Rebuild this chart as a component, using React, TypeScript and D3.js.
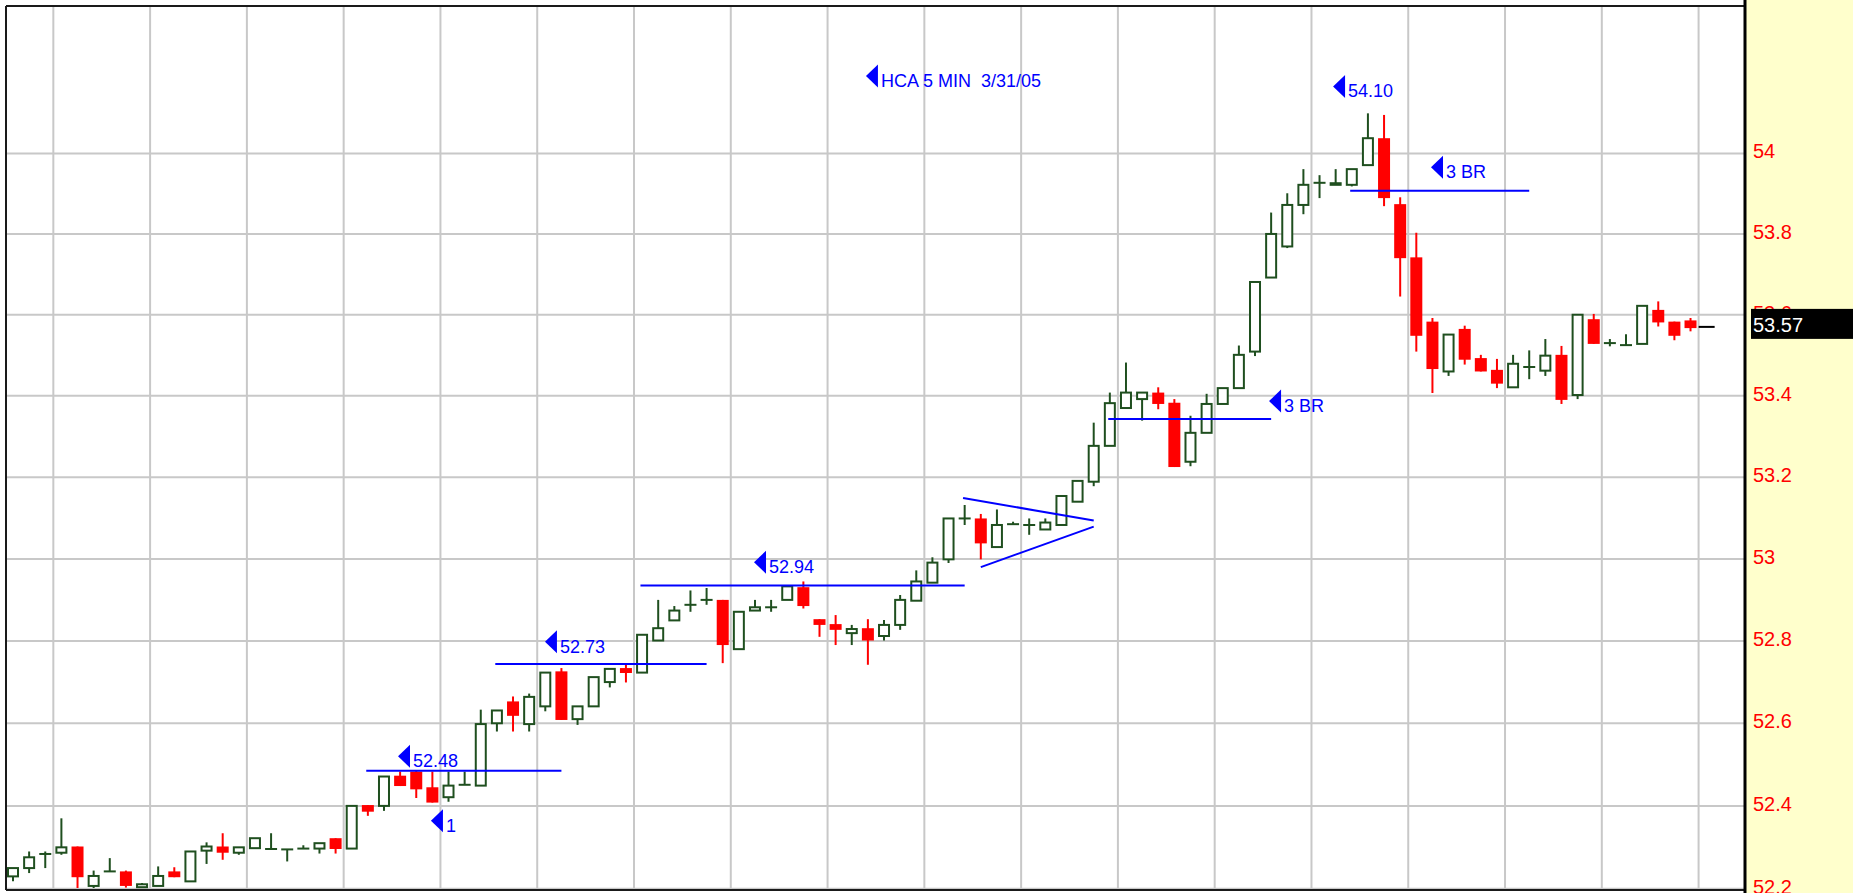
import React, { useRef, useEffect } from 'react';
import * as d3 from 'd3';

const chartWidth = 1853;
const chartHeight = 893;
const frame = { left: 6, top: 6, right: 1745, bottom: 890 };

// 5 minute bars, HCA 3/31/05
const opens = [
  52.23, 52.25, 52.284, 52.287, 52.302, 52.207, 52.242, 52.242, 52.204, 52.207,
  52.242, 52.218, 52.292, 52.302, 52.287, 52.298, 52.296, 52.295, 52.297, 52.297,
  52.322, 52.297, 52.402, 52.4, 52.473, 52.483, 52.445, 52.421, 52.451, 52.449,
  52.6, 52.653, 52.598, 52.641, 52.726, 52.61, 52.641, 52.7, 52.734, 52.723,
  52.801, 52.85, 52.888, 52.9, 52.9, 52.78, 52.874, 52.882, 52.9, 52.931,
  52.853, 52.841, 52.819, 52.831, 52.812, 52.839, 52.898, 52.942, 52.999, 53.099,
  53.099, 53.029, 53.085, 53.083, 53.072, 53.083, 53.14, 53.189, 53.277, 53.37,
  53.392, 53.408, 53.383, 53.238, 53.309, 53.38, 53.419, 53.509, 53.692, 53.769,
  53.872, 53.927, 53.922, 53.922, 53.971, 54.038, 53.874, 53.742, 53.583, 53.46,
  53.565, 53.493, 53.464, 53.421, 53.471, 53.462, 53.501, 53.402, 53.589, 53.53,
  53.525, 53.528, 53.612, 53.583, 53.586, 53.57,
];
const highs = [
  52.25, 52.29, 52.29, 52.37, 52.302, 52.244, 52.274, 52.244, 52.214, 52.254,
  52.252, 52.29, 52.312, 52.334, 52.3, 52.322, 52.334, 52.295, 52.305, 52.31,
  52.322, 52.4, 52.402, 52.471, 52.483, 52.485, 52.483, 52.483, 52.483, 52.633,
  52.631, 52.665, 52.672, 52.723, 52.734, 52.641, 52.712, 52.732, 52.744, 52.815,
  52.9, 52.885, 52.923, 52.929, 52.9, 52.871, 52.9, 52.9, 52.933, 52.945,
  52.853, 52.863, 52.839, 52.853, 52.851, 52.912, 52.972, 53.004, 53.099, 53.132,
  53.11, 53.121, 53.091, 53.099, 53.099, 53.154, 53.191, 53.334, 53.408, 53.482,
  53.408, 53.421, 53.392, 53.351, 53.405, 53.419, 53.524, 53.681, 53.853, 53.901,
  53.961, 53.946, 53.961, 53.961, 54.1, 54.096, 53.891, 53.803, 53.592, 53.551,
  53.573, 53.501, 53.491, 53.501, 53.512, 53.54, 53.523, 53.6, 53.602, 53.54,
  53.552, 53.622, 53.633, 53.583, 53.592, 53.57,
];
const lows = [
  52.218, 52.238, 52.25, 52.282, 52.202, 52.202, 52.242, 52.203, 52.204, 52.207,
  52.228, 52.218, 52.26, 52.27, 52.282, 52.298, 52.296, 52.266, 52.297, 52.285,
  52.285, 52.297, 52.376, 52.388, 52.448, 52.419, 52.408, 52.41, 52.451, 52.449,
  52.58, 52.58, 52.58, 52.629, 52.608, 52.596, 52.641, 52.687, 52.699, 52.723,
  52.801, 52.85, 52.871, 52.888, 52.746, 52.78, 52.874, 52.871, 52.9, 52.879,
  52.81, 52.79, 52.79, 52.742, 52.801, 52.827, 52.898, 52.942, 52.99, 53.083,
  52.999, 53.029, 53.085, 53.059, 53.072, 53.083, 53.14, 53.178, 53.277, 53.37,
  53.339, 53.367, 53.225, 53.227, 53.309, 53.38, 53.419, 53.498, 53.692, 53.765,
  53.849, 53.889, 53.922, 53.918, 53.971, 53.869, 53.645, 53.509, 53.407, 53.449,
  53.477, 53.46, 53.419, 53.421, 53.441, 53.449, 53.38, 53.392, 53.528, 53.522,
  53.525, 53.528, 53.571, 53.537, 53.559, 53.57,
];
const closes = [
  52.25, 52.276, 52.284, 52.3, 52.228, 52.231, 52.242, 52.207, 52.211, 52.231,
  52.228, 52.29, 52.302, 52.287, 52.3, 52.322, 52.296, 52.295, 52.297, 52.31,
  52.296, 52.4, 52.386, 52.471, 52.448, 52.44, 52.408, 52.449, 52.451, 52.598,
  52.631, 52.618, 52.664, 52.723, 52.608, 52.641, 52.712, 52.732, 52.722, 52.815,
  52.831, 52.874, 52.888, 52.9, 52.79, 52.871, 52.882, 52.882, 52.933, 52.885,
  52.839, 52.827, 52.829, 52.801, 52.839, 52.9, 52.945, 52.991, 53.099, 53.099,
  53.038, 53.083, 53.085, 53.083, 53.089, 53.154, 53.191, 53.277, 53.382, 53.408,
  53.408, 53.38, 53.225, 53.309, 53.38, 53.419, 53.501, 53.681, 53.8, 53.872,
  53.922, 53.927, 53.926, 53.961, 54.038, 53.889, 53.74, 53.548, 53.466, 53.551,
  53.489, 53.46, 53.43, 53.479, 53.471, 53.499, 53.39, 53.6, 53.528, 53.53,
  53.525, 53.622, 53.581, 53.548, 53.567, 53.57,
];

const priceTicks = [52.2, 52.4, 52.6, 52.8, 53, 53.2, 53.4, 53.6, 53.8, 54];
const lastPrice = 53.57;
const barsPerGrid = 6;

// breakout levels: price, first bar, last bar
const levelPrices = [52.485, 52.744, 52.935, 53.343, 53.907];
const levelFrom = [21.9, 29.9, 38.9, 67.9, 82.9];
const levelTo = [34.0, 43.0, 59.0, 78.0, 94.0];

// converging triangle lines
const triangleFrom = [[58.9, 53.149], [60.0, 52.98]];
const triangleTo = [[67.0, 53.094], [67.0, 53.079]];

const noteText = ['HCA 5 MIN  3/31/05', '54.10', '3 BR', '3 BR', '52.94', '52.73', '52.48', '1'];
const noteBar = [52.88, 81.84, 87.91, 77.87, 45.94, 32.98, 23.87, 25.91];
const notePrice = [54.193, 54.167, 53.966, 53.387, 52.992, 52.798, 52.52, 52.364];

const upColor = '#1f4f1f';
const downColor = '#ff0000';
const noteColor = '#0000ff';
const gridColor = '#c8c8c8';

const CandleChart = () => {
  const chartRef = useRef(null);

  useEffect(() => {
    const root = d3.select(chartRef.current);
    root.selectAll('*').remove();

    const svg = root
      .append('svg')
      .attr('width', chartWidth)
      .attr('height', chartHeight)
      .style('position', 'absolute')
      .style('left', '0px')
      .style('top', '0px')
      .style('display', 'block')
      .style('font-family', '"Liberation Sans", Arial, sans-serif');

    const lastBar = opens.length - 1;
    const xScale = d3.scaleLinear().domain([0, lastBar]).range([13, 13 + lastBar * 16.13]);
    const yScale = d3.scaleLog().domain([52.19, 54.3834]).range([chartHeight, 0]);

    svg.append('rect').attr('width', chartWidth).attr('height', chartHeight).attr('fill', '#ffffff');

    // right price panel
    svg
      .append('rect')
      .attr('x', frame.right)
      .attr('y', 0)
      .attr('width', chartWidth - frame.right)
      .attr('height', chartHeight)
      .attr('fill', '#ffffcc');

    // grid
    const gridBars = d3.range(2.5, lastBar, barsPerGrid);
    svg
      .append('g')
      .selectAll('line')
      .data(gridBars)
      .enter()
      .append('line')
      .attr('x1', (d) => xScale(d))
      .attr('x2', (d) => xScale(d))
      .attr('y1', frame.top)
      .attr('y2', frame.bottom)
      .attr('stroke', gridColor)
      .attr('stroke-width', 2);

    svg
      .append('g')
      .selectAll('line')
      .data(priceTicks)
      .enter()
      .append('line')
      .attr('x1', frame.left)
      .attr('x2', frame.right)
      .attr('y1', (d) => yScale(d))
      .attr('y2', (d) => yScale(d))
      .attr('stroke', gridColor)
      .attr('stroke-width', 2);

    // candles
    const bars = opens.map((o, i) => ({ i, o, h: highs[i], l: lows[i], c: closes[i] }));
    const candles = svg.append('g').selectAll('g').data(bars).enter().append('g');

    const colorOf = (d) => (d.i === lastBar ? '#000000' : d.c < d.o ? downColor : upColor);

    candles
      .append('line')
      .attr('x1', (d) => xScale(d.i))
      .attr('x2', (d) => xScale(d.i))
      .attr('y1', (d) => yScale(d.h))
      .attr('y2', (d) => yScale(d.l))
      .attr('stroke', colorOf)
      .attr('stroke-width', 2);

    candles
      .filter((d) => d.c < d.o)
      .append('rect')
      .attr('x', (d) => xScale(d.i) - 6)
      .attr('width', 12)
      .attr('y', (d) => yScale(d.o))
      .attr('height', (d) => Math.max(2, yScale(d.c) - yScale(d.o)))
      .attr('fill', downColor);

    candles
      .filter((d) => d.c > d.o)
      .append('rect')
      .attr('x', (d) => xScale(d.i) - 5)
      .attr('width', 10)
      .attr('y', (d) => yScale(d.c))
      .attr('height', (d) => Math.max(1, yScale(d.o) - yScale(d.c)))
      .attr('fill', '#ffffff')
      .attr('stroke', upColor)
      .attr('stroke-width', 2);

    candles
      .filter((d) => d.c === d.o)
      .append('line')
      .attr('x1', (d) => xScale(d.i) - (d.i === lastBar ? 8 : 6))
      .attr('x2', (d) => xScale(d.i) + (d.i === lastBar ? 8 : 6))
      .attr('y1', (d) => yScale(d.c))
      .attr('y2', (d) => yScale(d.c))
      .attr('stroke', colorOf)
      .attr('stroke-width', 2);

    // trend / breakout lines
    const lines = svg.append('g').attr('stroke', noteColor).attr('stroke-width', 2);
    levelPrices.forEach((p, k) => {
      lines
        .append('line')
        .attr('x1', xScale(levelFrom[k]))
        .attr('x2', xScale(levelTo[k]))
        .attr('y1', yScale(p))
        .attr('y2', yScale(p));
    });
    triangleFrom.forEach((start, k) => {
      lines
        .append('line')
        .attr('x1', xScale(start[0]))
        .attr('y1', yScale(start[1]))
        .attr('x2', xScale(triangleTo[k][0]))
        .attr('y2', yScale(triangleTo[k][1]));
    });

    // notes with arrow markers
    const notes = svg.append('g').attr('fill', noteColor);
    noteText.forEach((t, k) => {
      const nx = xScale(noteBar[k]);
      const ny = yScale(notePrice[k]);
      notes.append('path').attr('d', `M${nx},${ny} L${nx + 12},${ny - 11.5} L${nx + 12},${ny + 11.5} Z`);
      notes
        .append('text')
        .attr('x', nx + 15)
        .attr('y', ny + 11)
        .attr('font-size', 18)
        .style('white-space', 'pre')
        .text(t);
    });

    // frame
    const border = svg.append('g').attr('stroke', '#1a1a1a').attr('fill', 'none');
    border.append('line').attr('x1', frame.left).attr('x2', frame.right).attr('y1', frame.top).attr('y2', frame.top).attr('stroke-width', 2);
    border.append('line').attr('x1', frame.left).attr('x2', frame.left).attr('y1', frame.top).attr('y2', frame.bottom).attr('stroke-width', 2);
    border.append('line').attr('x1', frame.left).attr('x2', frame.right).attr('y1', frame.bottom).attr('y2', frame.bottom).attr('stroke-width', 2);
    border.append('line').attr('x1', frame.right).attr('x2', frame.right).attr('y1', 0).attr('y2', chartHeight).attr('stroke', '#000000').attr('stroke-width', 3);

    // price axis labels
    svg
      .append('g')
      .selectAll('text')
      .data(priceTicks)
      .enter()
      .append('text')
      .attr('x', 1753)
      .attr('y', (d) => yScale(d) + 5)
      .attr('font-size', 20)
      .attr('fill', '#ff0000')
      .text((d) => d3.format('~g')(d));

    const lastY = yScale(lastPrice);
    svg
      .append('rect')
      .attr('x', 1751)
      .attr('y', lastY - 18)
      .attr('width', chartWidth - 1751)
      .attr('height', 30)
      .attr('fill', '#000000');
    svg
      .append('text')
      .attr('x', 1753)
      .attr('y', lastY + 5)
      .attr('font-size', 20)
      .attr('fill', '#ffffff')
      .text(lastPrice.toFixed(2));
  }, []);

  return <div ref={chartRef}></div>;
};

export default function App() {
  return <CandleChart />;
}
